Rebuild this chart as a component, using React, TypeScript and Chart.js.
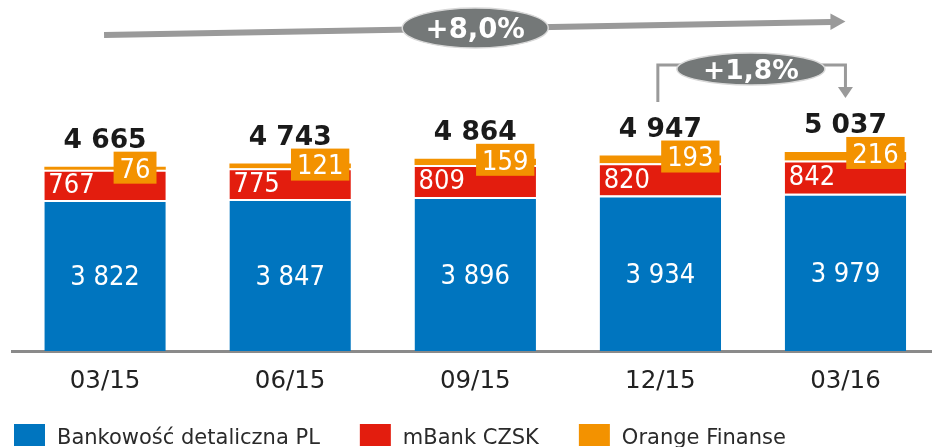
import React, { useEffect, useRef } from "react";
import { Chart, registerables } from "chart.js";

Chart.register(...registerables);

const categories = ["03/15", "06/15", "09/15", "12/15", "03/16"];
const retailPL = [3822, 3847, 3896, 3934, 3979];
const mBankCZSK = [767, 775, 809, 820, 842];
const orangeFinanse = [76, 121, 159, 193, 216];
const totals = ["4 665", "4 743", "4 864", "4 947", "5 037"];
const seriesNames = ["Bankowość detaliczna PL", "mBank CZSK", "Orange Finanse"];
const growthAll = "+8,0%";
const growthQ = "+1,8%";

const BLUE = "#0075bf";
const RED = "#e31d0e";
const ORANGE = "#f39200";
const colors = [BLUE, RED, ORANGE];

const fmt = (v: number) => {
  const s = String(v);
  return s.length > 3 ? s.slice(0, s.length - 3) + " " + s.slice(s.length - 3) : s;
};

const VAL_FONT = "27px 'DejaVu Sans Condensed', 'DejaVu Sans', sans-serif";

const labelPlugin = {
  id: "customLabels",
  afterDatasetsDraw(chart: any) {
    const ctx = chart.ctx as CanvasRenderingContext2D;
    const m0 = chart.getDatasetMeta(0);
    const m1 = chart.getDatasetMeta(1);
    const m2 = chart.getDatasetMeta(2);
    ctx.save();
    categories.forEach((_, i) => {
      const b = m0.data[i] as any;
      const r = m1.data[i] as any;
      const o = m2.data[i] as any;
      ctx.font = VAL_FONT;
      ctx.textBaseline = "alphabetic";
      ctx.fillStyle = "#ffffff";
      ctx.textAlign = "center";
      ctx.fillText(fmt(retailPL[i]), b.x, (b.y + b.base) / 2 + 0.365 * 27);
      ctx.textAlign = "left";
      ctx.fillText(fmt(mBankCZSK[i]), r.x - r.width / 2 + 4, (r.y + r.base) / 2 - 1.5 + 0.365 * 27);
      const txt = fmt(orangeFinanse[i]);
      const tw = ctx.measureText(txt).width;
      const bw = tw + 12;
      const bh = 32;
      const cx = o.x + 30;
      const cy = o.y + 1;
      ctx.fillStyle = ORANGE;
      ctx.fillRect(cx - bw / 2, cy - bh / 2, bw, bh);
      ctx.fillStyle = "#ffffff";
      ctx.textAlign = "center";
      ctx.fillText(txt, cx, cy + 0.365 * 27);
      ctx.font = "bold 26.5px 'DejaVu Sans', sans-serif";
      ctx.fillStyle = "#1a1a1a";
      ctx.fillText(totals[i], o.x, o.y - 19);
    });

    const x1 = (m0.data[0] as any).x;
    const x3 = (m0.data[2] as any).x;
    const x4 = (m0.data[3] as any).x;
    const x5 = (m0.data[4] as any).x;
    ctx.fillStyle = "#9a9a9a";
    ctx.strokeStyle = "#9a9a9a";
    ctx.lineWidth = 6;
    ctx.beginPath();
    ctx.moveTo(x1 - 1, 35);
    ctx.lineTo(x5 - 14, 22);
    ctx.stroke();
    ctx.beginPath();
    ctx.moveTo(x5 - 15, 13.5);
    ctx.lineTo(x5, 21.5);
    ctx.lineTo(x5 - 15, 30);
    ctx.closePath();
    ctx.fill();
    ctx.lineWidth = 3;
    ctx.beginPath();
    ctx.moveTo(x4 - 2.5, 102);
    ctx.lineTo(x4 - 2.5, 65);
    ctx.lineTo(x4 + 25, 65);
    ctx.stroke();
    ctx.beginPath();
    ctx.moveTo(x5 - 30, 65);
    ctx.lineTo(x5, 65);
    ctx.lineTo(x5, 88);
    ctx.stroke();
    ctx.beginPath();
    ctx.moveTo(x5 - 7.5, 87);
    ctx.lineTo(x5 + 7.5, 87);
    ctx.lineTo(x5, 98);
    ctx.closePath();
    ctx.fill();
    const drawPill = (cx: number, cy: number, rx: number, ry: number, text: string, size: number) => {
      ctx.beginPath();
      ctx.ellipse(cx, cy, rx, ry, 0, 0, Math.PI * 2);
      ctx.fillStyle = "#747878";
      ctx.fill();
      ctx.lineWidth = 1.5;
      ctx.strokeStyle = "#d8d8d8";
      ctx.stroke();
      ctx.fillStyle = "#ffffff";
      ctx.font = `bold ${size}px 'DejaVu Sans', sans-serif`;
      ctx.textAlign = "center";
      ctx.textBaseline = "alphabetic";
      ctx.fillText(text, cx, cy + 0.365 * size);
    };
    drawPill(x3, 28, 73, 20, growthAll, 27.5);
    drawPill((x4 + x5) / 2 - 2, 69, 74, 16, growthQ, 26.5);

    let lx = 14;
    ctx.font = "21px 'DejaVu Sans', sans-serif";
    ctx.textAlign = "left";
    seriesNames.forEach((name, k) => {
      ctx.fillStyle = colors[k];
      ctx.fillRect(lx, 424, 31, 22);
      ctx.fillStyle = "#2a2a2a";
      ctx.fillText(name, lx + 43, 444);
      lx += 43 + ctx.measureText(name).width + 40;
    });
    ctx.restore();
  },
};

export default function App() {
  const ref = useRef<HTMLCanvasElement | null>(null);
  useEffect(() => {
    if (!ref.current) return;
    const mk = (data: number[], k: number, top: number) => ({
      label: seriesNames[k],
      data,
      backgroundColor: colors[k],
      borderColor: "#ffffff",
      borderWidth: { top, right: 0, bottom: 0, left: 0 },
      borderSkipped: false,
      barPercentage: 1,
      categoryPercentage: 0.656,
    });
    const chart = new Chart(ref.current, {
      type: "bar",
      data: {
        labels: categories,
        datasets: [mk(retailPL, 0, 2), mk(mBankCZSK, 1, 2), mk(orangeFinanse, 2, 0)] as any,
      },
      plugins: [labelPlugin],
      options: {
        responsive: false,
        animation: false,
        layout: { padding: { left: 12.5, right: 0, top: 0, bottom: 34.6 } },
        plugins: { legend: { display: false }, tooltip: { enabled: false } },
        scales: {
          x: {
            stacked: true,
            grid: { display: false, drawTicks: false },
            border: { display: true, color: "#8a8a8a", width: 3 },
            ticks: {
              color: "#222222",
              padding: 16,
              font: { family: "'DejaVu Sans', sans-serif", size: 24.5 },
            },
          },
          y: { stacked: true, display: false, min: 0, max: 8883 },
        },
      } as any,
    });
    return () => chart.destroy();
  }, []);
  return (
    <div style={{ position: "absolute", left: 0, top: 0, width: 932, height: 447, overflow: "hidden", background: "#fff" }}>
      <canvas ref={ref} width={938} height={447} style={{ display: "block" }} />
    </div>
  );
}
